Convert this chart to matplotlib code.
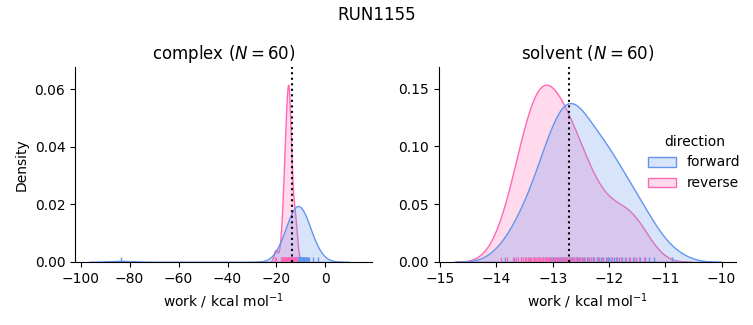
import matplotlib
matplotlib.use("Agg")
import matplotlib.pyplot as plt
from matplotlib.ticker import MaxNLocator
import pandas as pd
import seaborn as sns

complex_forward = [
    -17.8,
    -16.5,
    -15.9, -15.3,
    -15.0, -14.7, -14.5, -14.2,
    -14.0, -13.8, -13.5, -13.3, -13.1,
    -13.0, -12.9, -12.7, -12.6, -12.5, -12.3, -12.2, -12.1,
    -12.0, -11.9, -11.8, -11.7, -11.6, -11.5, -11.4, -11.3, -11.2,
    -11.0, -10.9, -10.8, -10.7, -10.6, -10.5, -10.4, -10.3, -10.2,
    -10.0, -9.9, -9.8, -9.7, -9.6, -9.4, -9.3, -9.2,
    -9.0, -8.8, -8.6, -8.4, -8.2,
    -8.0, -7.8, -7.5, -7.2,
    -6.8, -5.2, -3.2,
    -83.6,
]
complex_reverse = [
    -20.6, -20.1,
    -18.3,
    -17.8, -17.6,
    -17.3, -17.1, -17.0, -16.9, -16.8,
    -16.7, -16.6, -16.5, -16.4, -16.3, -16.2,
    -16.1, -16.0, -15.95, -15.9, -15.85, -15.8, -15.7, -15.6,
    -15.55, -15.45, -15.4, -15.35, -15.3, -15.25, -15.2, -15.15,
    -15.1, -15.05, -15.0, -14.95, -14.9, -14.85, -14.8, -14.75,
    -14.7, -14.65, -14.6, -14.5, -14.4, -14.3, -14.2,
    -14.1, -14.0, -13.9, -13.7, -13.5,
    -13.3, -13.1,
    -12.8, -12.6, -12.4, -12.2, -12.0, -11.8,
]
solvent_forward = [
    -13.85,
    -13.68, -13.56,
    -13.47, -13.40, -13.33, -13.27,
    -13.23, -13.18, -13.13, -13.09, -13.05, -13.02,
    -12.99, -12.96, -12.93, -12.90, -12.87, -12.84, -12.81, -12.79, -12.77,
    -12.74, -12.72, -12.69, -12.67, -12.64, -12.62, -12.59, -12.57, -12.54, -12.52,
    -12.48, -12.44, -12.40, -12.36, -12.32, -12.29, -12.26,
    -12.22, -12.18, -12.14, -12.10, -12.06, -12.02, -12.00,
    -11.97, -11.92, -11.87, -11.82, -11.77,
    -11.71, -11.64, -11.58, -11.52,
    -11.45, -11.37, -11.29,
    -11.20,
    -10.88,
]
solvent_reverse = [
    -13.92, -13.82,
    -13.70, -13.65, -13.61, -13.57, -13.53,
    -13.49, -13.47, -13.44, -13.42, -13.39, -13.36, -13.34, -13.31, -13.29, -13.26,
    -13.24, -13.22, -13.19, -13.17, -13.14, -13.12, -13.10, -13.09, -13.07, -13.04, -13.01,
    -12.98, -12.95, -12.92, -12.89, -12.86, -12.83, -12.80, -12.77,
    -12.74, -12.71, -12.68, -12.65, -12.62, -12.58, -12.55, -12.52,
    -12.47, -12.42, -12.37, -12.32, -12.27,
    -12.20, -12.12, -12.04,
    -11.95, -11.86, -11.78,
    -11.70, -11.62, -11.55,
    -11.46, -11.38,
]

phases = ["complex", "solvent"]
directions = ["forward", "reverse"]
# free energy estimate per phase (dotted line)
estimates = {"complex": -13.8, "solvent": -12.71}
colors = {"forward": "cornflowerblue", "reverse": "hotpink"}
xlims = {"complex": (-102.3, 19.2), "solvent": (-15.03, -9.745)}

works = {
    ("complex", "forward"): complex_forward,
    ("complex", "reverse"): complex_reverse,
    ("solvent", "forward"): solvent_forward,
    ("solvent", "reverse"): solvent_reverse,
}

rows = []
for (phase, direction), w in works.items():
    for v in w:
        rows.append({"phase": phase, "direction": direction, "work": v})
df = pd.DataFrame(rows)

g = sns.displot(df, x="work", hue="direction", col="phase", kind="kde",
                fill=True, rug=True, palette=colors, hue_order=directions,
                col_order=phases, facet_kws={"sharex": False, "sharey": False},
                height=3.25, aspect=1.0)

for ax, phase in zip(g.axes.flat, phases):
    n = len(works[(phase, "forward")])
    ax.axvline(estimates[phase], color="k", ls=":", lw=1.5)
    ax.set_title(f"{phase} ($N={n}$)")
    ax.set_xlim(*xlims[phase])
    ax.yaxis.set_major_locator(MaxNLocator(4))

g.set_axis_labels("work / kcal mol$^{-1}$", "Density")
g.figure.suptitle("RUN1155")

g.figure.set_size_inches(7.53, 3.25)
g.figure.subplots_adjust(left=0.0996, right=0.9774, bottom=0.194, top=0.794, wspace=0.222)
sns.move_legend(g, "center left", bbox_to_anchor=(0.844, 0.5), frameon=False)

g.figure.savefig("out.png", dpi=100)
